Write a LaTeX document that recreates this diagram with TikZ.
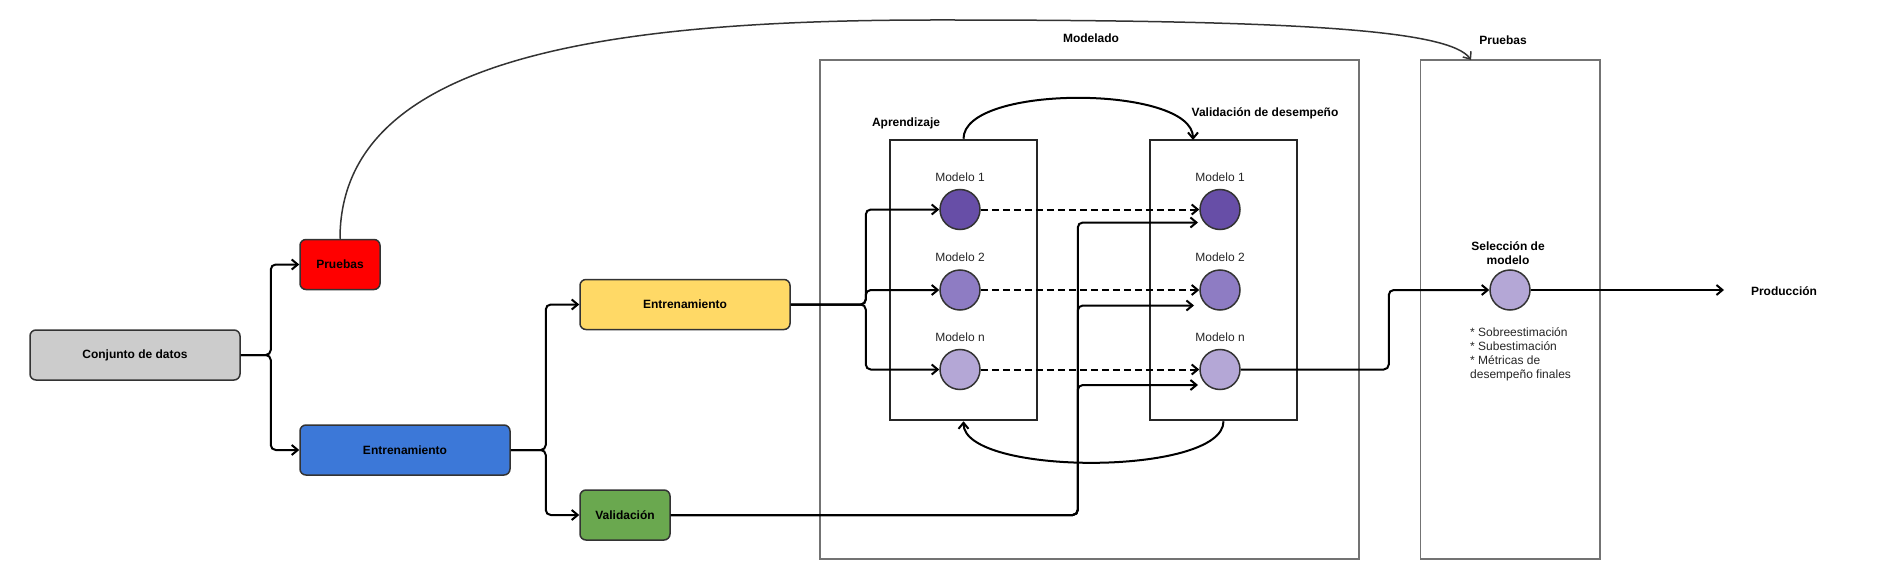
\documentclass[tikz,border=0pt]{standalone}
\usepackage{fontspec}
\setmainfont{Liberation Sans}
\usetikzlibrary{arrows.meta,positioning}

\definecolor{datagray}{HTML}{CCCCCC}
\definecolor{testred}{HTML}{FF0000}
\definecolor{trainblue}{HTML}{3C78D8}
\definecolor{trainyellow}{HTML}{FFD966}
\definecolor{valgreen}{HTML}{6AA84F}
\definecolor{purpleA}{HTML}{674EA7}
\definecolor{purpleB}{HTML}{8E7CC3}
\definecolor{purpleC}{HTML}{B4A7D6}
\definecolor{edgegray}{HTML}{333333}

\tikzset{
    stagebox/.style={draw=edgegray, line width=1.5pt, rounded corners=6pt, minimum height=50pt, font=\fontsize{12}{14}\selectfont\bfseries},
    frame/.style={draw=black!55, line width=1.5pt},
    inbox/.style={draw=black!85, line width=2pt},
    model/.style={circle, draw=edgegray, line width=1.5pt, minimum size=40pt, inner sep=0pt},
    lbl/.style={font=\fontsize{12}{14}\selectfont\bfseries, inner sep=0pt},
    modlbl/.style={font=\fontsize{12}{14}\selectfont, text=black!85, inner sep=0pt},
    conn/.style={->, line width=2pt, rounded corners=5pt},
}

\begin{document}
\begin{tikzpicture}[x=1pt, y=-1pt, >={Straight Barb[length=6pt,width=10pt]}]
    \useasboundingbox (0,0) rectangle (1886,580);

    % etapas de datos
    \node[stagebox, fill=datagray, minimum width=210pt] (data) at (135,355) {Conjunto de datos};
    \node[stagebox, fill=testred, minimum width=80pt] (testbox) at (340,264.5) {Pruebas};
    \node[stagebox, fill=trainblue, minimum width=210pt] (trainbox) at (405,450) {Entrenamiento};
    \node[stagebox, fill=trainyellow, minimum width=210pt] (trainsub) at (685,304.5) {Entrenamiento};
    \node[stagebox, fill=valgreen, minimum width=90pt] (valbox) at (625,515) {Validación};

    % marcos
    \node[frame, minimum width=539pt, minimum height=499pt] (modelado) at (1089.5,309.5) {};
    \node[lbl] (modeladolbl) at (1091,38) {Modelado};
    \node[frame, minimum width=179.5pt, minimum height=499pt] (pruebasframe) at (1510,309.5) {};
    \node[lbl] (pruebaslbl) at (1503,40) {Pruebas};

    \node[inbox, minimum width=147pt, minimum height=280.5pt] (learnbox) at (963.5,280) {};
    \node[lbl] (learnlbl) at (906,123) {Aprendizaje};
    \node[inbox, minimum width=147pt, minimum height=280.5pt] (perfbox) at (1223.5,280) {};
    \node[lbl] (perflbl) at (1265,113) {Validación de desempeño};

    % modelos
    \node[model, fill=purpleA] (l1) at (960,209.5) {};
    \node[model, fill=purpleB] (l2) at (960,290) {};
    \node[model, fill=purpleC] (ln) at (960,369.5) {};
    \node[model, fill=purpleA] (r1) at (1220,209.5) {};
    \node[model, fill=purpleB] (r2) at (1220,290) {};
    \node[model, fill=purpleC] (rn) at (1220,369.5) {};
    \node[modlbl] (l1lbl) at (960,177) {Modelo 1};
    \node[modlbl] (l2lbl) at (960,257) {Modelo 2};
    \node[modlbl] (lnlbl) at (960,337) {Modelo n};
    \node[modlbl] (r1lbl) at (1220,177) {Modelo 1};
    \node[modlbl] (r2lbl) at (1220,257) {Modelo 2};
    \node[modlbl] (rnlbl) at (1220,337) {Modelo n};

    % seleccion
    \node[model, fill=purpleC] (sel) at (1510,290) {};
    \node[lbl, align=center] (sellbl) at (1508,253) {Selección de\\modelo};
    \node[modlbl, align=left, anchor=north west] (notes) at (1470,327) {* Sobreestimación\\* Subestimación\\* Métricas de\\desempeño finales};
    \node[lbl] (prod) at (1784,291) {Producción};

    \coordinate (v1) at (1198,222.5);
    \coordinate (v2) at (1194,305.5);
    \coordinate (vn) at (1198,385);
    \coordinate (perftop) at (1193,140);
    \coordinate (ptop) at (1471,60);
    \coordinate (prodin) at (1724,290);

    % conexiones
    \draw[conn] (data.east) -- ++(30,0) |- (testbox.west);
    \draw[conn] (data.east) -- ++(30,0) |- (trainbox.west);
    \draw[conn] (trainbox.east) -- ++(35,0) |- (trainsub.west);
    \draw[conn] (trainbox.east) -- ++(35,0) |- (valbox.west);
    \draw[conn] (trainsub.east) -- ++(75,0) |- (l1.west);
    \draw[conn] (trainsub.east) -- ++(75,0) |- (l2.west);
    \draw[conn] (trainsub.east) -- ++(75,0) |- (ln.west);
    \draw[conn, dash pattern=on 7pt off 4pt] (l1) -- (r1);
    \draw[conn, dash pattern=on 7pt off 4pt] (l2) -- (r2);
    \draw[conn, dash pattern=on 7pt off 4pt] (ln) -- (rn);
    \draw[conn] (valbox.east) -- ++(407,0) |- (v1);
    \draw[conn] (valbox.east) -- ++(407,0) |- (v2);
    \draw[conn] (valbox.east) -- ++(407,0) |- (vn);
    \draw[conn] (rn.east) -- ++(148,0) |- (sel.west);
    \draw[conn] (sel.east) -- (prodin);

    \draw[conn] (learnbox.north) .. controls +(0,-55) and +(0,-55) .. (perftop);
    \draw[conn] (perfbox.south) .. controls +(0,55) and +(0,55) .. (learnbox.south);
    \draw[conn, line width=1.5pt, draw=edgegray] (testbox.north) .. controls +(0,-180) and (600,20) .. (940,20) .. controls (1300,20) and (1450,30) .. (ptop);
\end{tikzpicture}
\end{document}
